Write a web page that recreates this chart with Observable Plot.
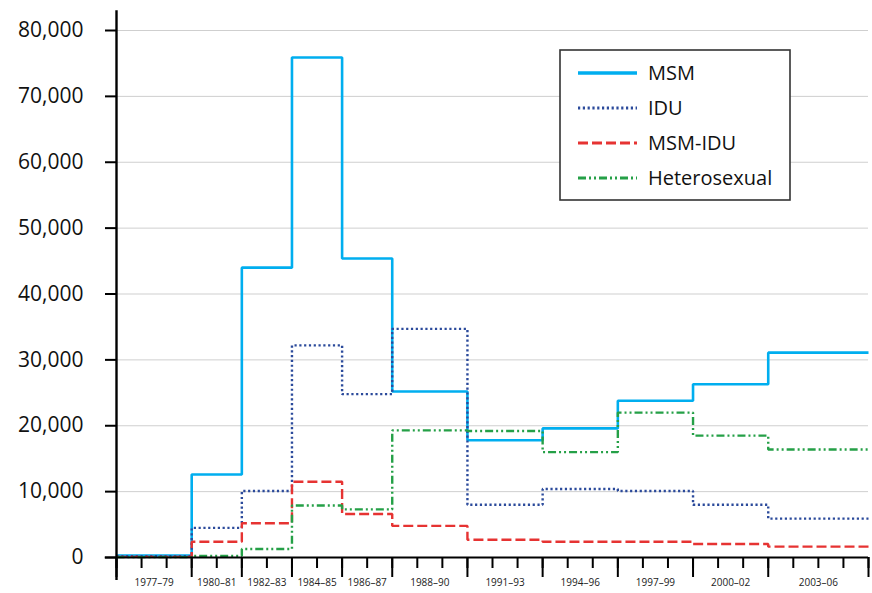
<!DOCTYPE html>
<html><head><meta charset="utf-8">
<script src="https://cdn.jsdelivr.net/npm/d3@7"></script>
<script src="https://cdn.jsdelivr.net/npm/@observablehq/plot@0.6"></script>
<style>
body{margin:0;background:#fff;font-family:"Open Sans",sans-serif}
#chart{position:relative;width:872px;height:593px}
</style>
</head><body><div id="chart"></div>
<script>
// ---- data ----
const periodStarts = [1977, 1980, 1982, 1984, 1986, 1988, 1991, 1994, 1997, 2000, 2003];
const periodEnd = 2007;
const periodLabels = ["1977–79","1980–81","1982–83","1984–85","1986–87","1988–90","1991–93","1994–96","1997–99","2000–02","2003–06"];
const msm     = [300, 12600, 44000, 75900, 45400, 25200, 17800, 19600, 23800, 26300, 31100];
const idu     = [200, 4500, 10100, 32200, 24800, 34700, 8000, 10400, 10100, 8000, 5900];
const msmIdu  = [100, 2400, 5200, 11500, 6600, 4800, 2700, 2400, 2400, 2050, 1650];
const hetero  = [50, 250, 1300, 7900, 7300, 19300, 19200, 16000, 22000, 18500, 16400];
const seriesNames = ["MSM", "IDU", "MSM-IDU", "Heterosexual"];
const yTicks = [0, 10000, 20000, 30000, 40000, 50000, 60000, 70000, 80000];

// ---- styles ----
const seriesStyle = [
  {stroke: "#00aeef", width: 2.6, dash: null},
  {stroke: "#2b4a9b", width: 2.4, dash: "2.2,2.6"},
  {stroke: "#e63332", width: 2.4, dash: "10,4"},
  {stroke: "#25a047", width: 2.4, dash: "8,3,2,3,2,3"}
];
const seriesValues = [msm, idu, msmIdu, hetero];

function stepData(values) {
  return periodStarts.map((x, i) => ({x, y: values[i]}))
    .concat([{x: periodEnd, y: values[values.length - 1]}]);
}
const years = d3.range(periodStarts[0], periodEnd + 1);
const boundaries = periodStarts.concat([periodEnd]);
const periods = periodStarts.map((s, i) => ({mid: (s + boundaries[i + 1]) / 2, label: periodLabels[i]}));

const lineMarks = seriesValues.map((vals, i) => Plot.line(stepData(vals), {
  x: "x", y: "y", curve: "step-after",
  stroke: seriesStyle[i].stroke, strokeWidth: seriesStyle[i].width,
  strokeDasharray: seriesStyle[i].dash, strokeLinecap: "butt", strokeLinejoin: "miter"
}));

const chart = Plot.plot({
  width: 872, height: 593,
  marginLeft: 116, marginRight: 4, marginTop: 30, marginBottom: 36,
  style: {fontFamily: "'Open Sans', sans-serif", background: "#fff", overflow: "visible"},
  x: {domain: [periodStarts[0], periodEnd], axis: null},
  y: {domain: [0, 80000], axis: null},
  marks: [
    Plot.gridY(yTicks.slice(1), {stroke: "#cfcfcf", strokeOpacity: 1, strokeWidth: 1}),
    Plot.axisY(yTicks, {tickSize: 11, tickPadding: 22, tickFormat: d3.format(","), fontSize: 21, strokeWidth: 2, stroke: "#000", fill: "#111", label: null}),
    Plot.axisX(years, {tickSize: 11, tickFormat: () => "", strokeWidth: 2, stroke: "#000", label: null}),
    Plot.axisX(boundaries, {tickSize: 20, tickFormat: () => "", strokeWidth: 2, stroke: "#000", label: null}),
    Plot.text(periods, {x: "mid", text: "label", frameAnchor: "bottom", dy: 28, fontSize: 10, fill: "#222"}),
    ...lineMarks,
    Plot.ruleY([0], {x1: periodStarts[0] - 0.45, x2: periodEnd, stroke: "#000", strokeWidth: 2.2}),
    Plot.ruleX([periodStarts[0]], {y1: -3500, y2: 83000, stroke: "#000", strokeWidth: 2.4})
  ]
});
document.getElementById("chart").appendChild(chart);

// ---- legend ----
const svg = d3.select(chart);
const lg = svg.append("g").attr("transform", "translate(560,50)");
lg.append("rect").attr("width", 230).attr("height", 150).attr("fill", "#fff")
  .attr("stroke", "#333").attr("stroke-width", 1.6);
seriesNames.forEach((name, i) => {
  const y = 23 + i * 35;
  lg.append("line").attr("x1", 18).attr("x2", 77).attr("y1", y).attr("y2", y)
    .attr("stroke", seriesStyle[i].stroke).attr("stroke-width", i === 0 ? 3.4 : 2.8)
    .attr("stroke-dasharray", seriesStyle[i].dash);
  lg.append("text").attr("x", 88).attr("y", y).attr("dy", "0.36em")
    .attr("text-anchor", "start")
    .attr("font-size", 20).attr("fill", "#111").text(name);
});
</script>
</body></html>
